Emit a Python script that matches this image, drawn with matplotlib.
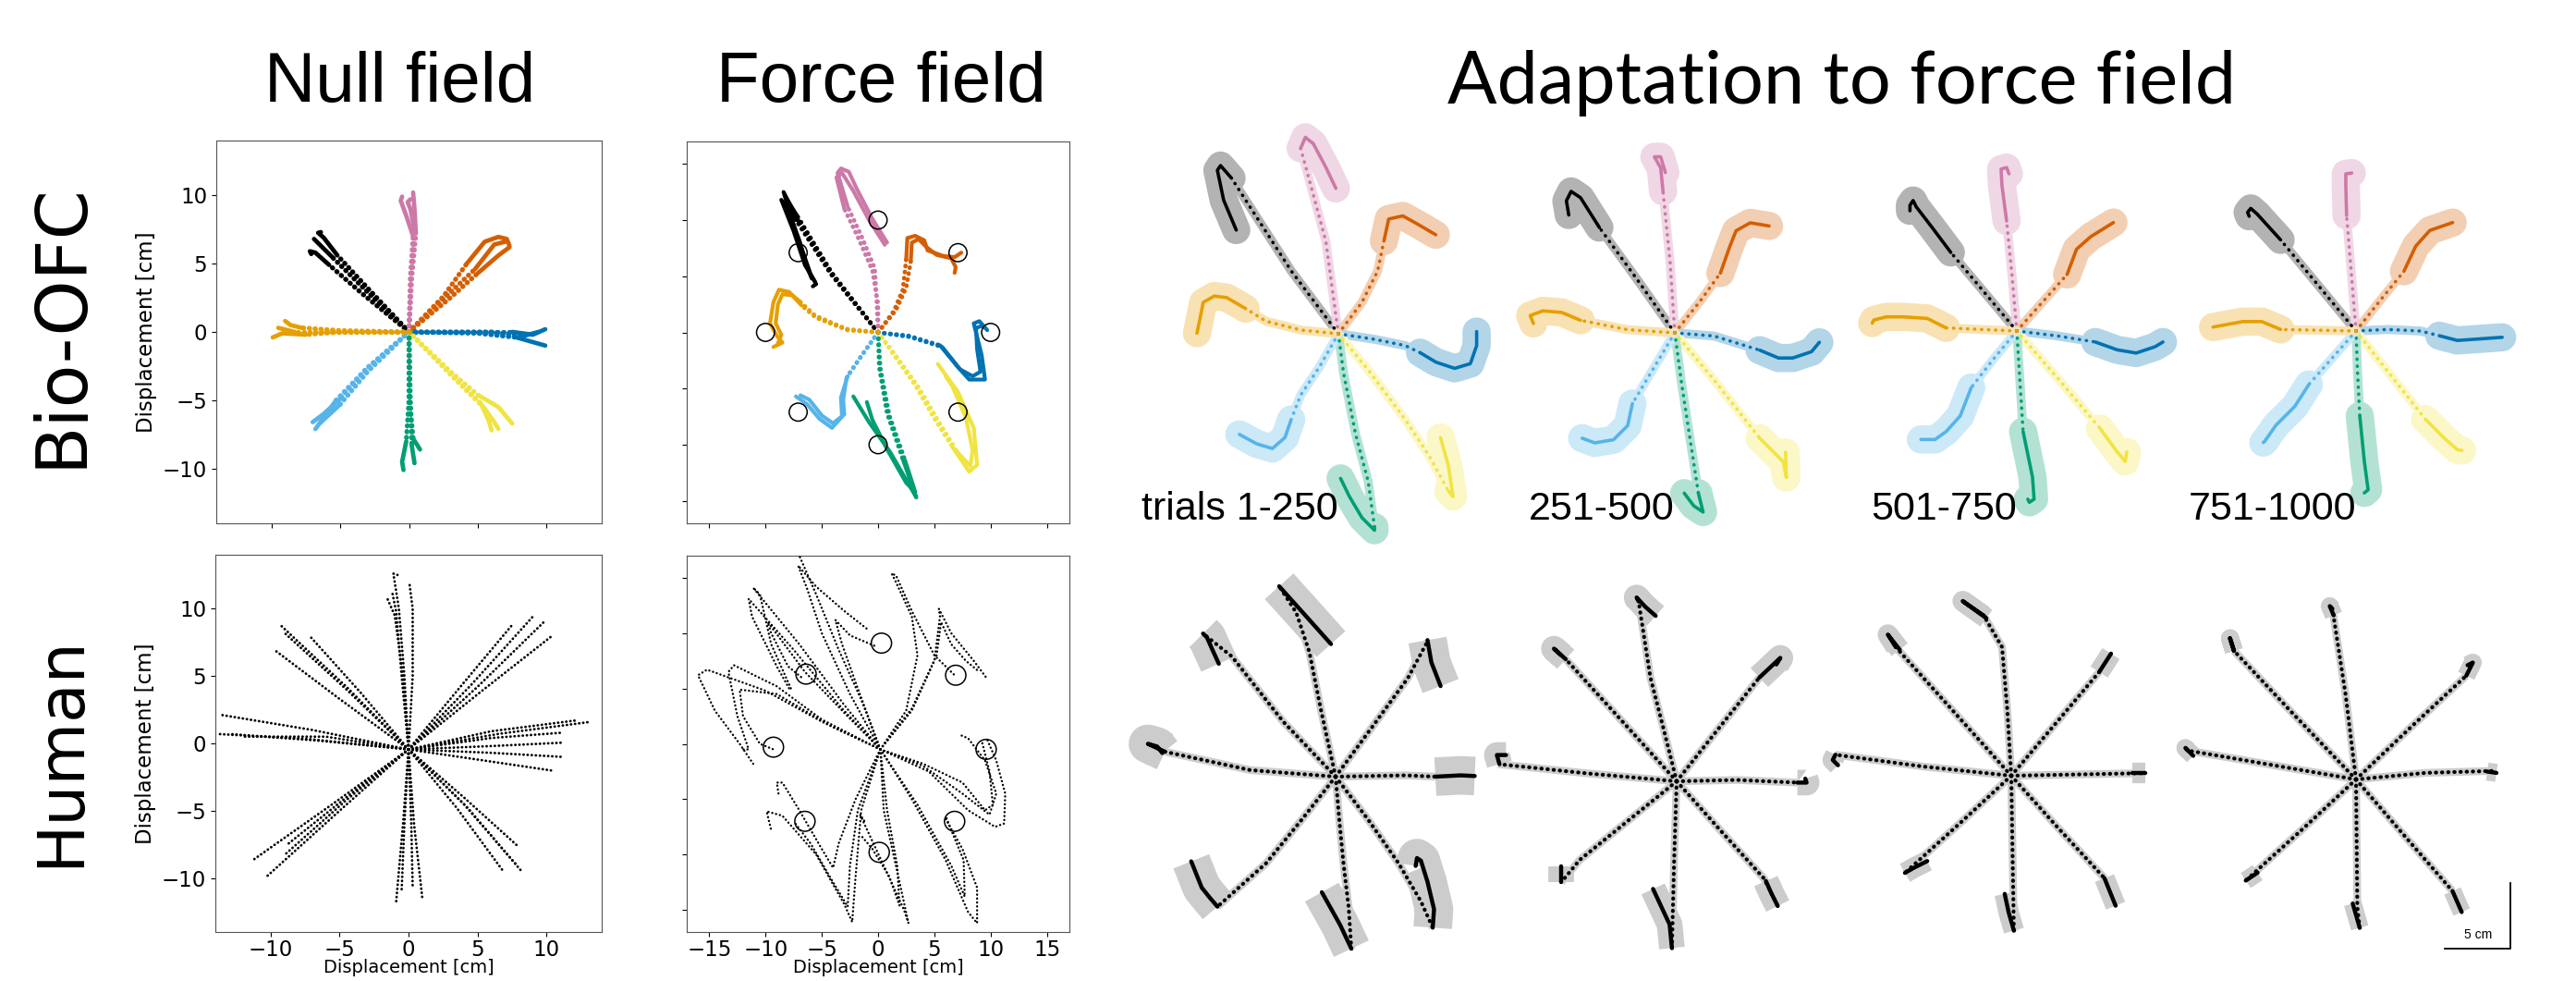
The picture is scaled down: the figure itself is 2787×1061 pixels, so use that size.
import numpy as np
import matplotlib.pyplot as plt
from matplotlib.patches import Circle

# Okabe-Ito colours, one per reach direction
# order: up-left, up, up-right, right, down-right, down, down-left, left
COLORS = ['#000000', '#CC79A7', '#D55E00', '#0072B2', '#F0E442', '#009E73', '#56B4E9', '#E69F00']

# ---------- Bio-OFC, null field: (direction, dotted part, solid end) ----------
OFC_NULL = [
    (0, [(0, 0), (-3, 3.2), (-5.2, 5.6)], [(-5.2, 5.6), (-6.2, 6.9), (-6.6, 7.25), (-6.4, 7.3)]),
    (0, [(0, 0), (-3.2, 3.1), (-5.5, 5.4)], [(-5.5, 5.4), (-6.5, 6.4), (-6.9, 6.8)]),
    (0, [(0, 0), (-3.4, 2.8), (-5.8, 4.9)], [(-5.8, 4.9), (-6.8, 5.8), (-7.2, 5.9), (-7.1, 5.7)]),
    (1, [(0, 0), (0.1, 4), (0.3, 7)], [(0.3, 7), (-0.2, 8.5), (-0.6, 9.6), (-0.5, 9.9)]),
    (1, [(0, 0), (0.2, 4), (0.5, 7.2)], [(0.5, 7.2), (0.4, 9.0), (0.3, 10.2)]),
    (1, [(0, 0), (0.15, 4), (0.4, 7.5)], [(0.4, 7.5), (0.1, 9.0), (-0.1, 9.5), (0.1, 9.7)]),
    (2, [(0, 0), (2.5, 2.6), (4.2, 5.0)], [(4.2, 5.0), (5.5, 6.6), (6.5, 6.95), (7.1, 6.8), (7.3, 6.3)]),
    (2, [(0, 0), (3.0, 2.5), (5.0, 4.3)], [(5.0, 4.3), (6.5, 5.6), (7.3, 6.2)]),
    (2, [(0, 0), (2.8, 2.7), (4.8, 4.6)], [(4.8, 4.6), (6.2, 6.4), (7.0, 6.6)]),
    (3, [(0, 0), (5, 0.0), (7.5, 0.0)], [(7.5, 0), (9.0, -0.2), (9.9, 0.2)]),
    (3, [(0, 0), (5, -0.1), (7.8, -0.4)], [(7.8, -0.4), (9.2, -0.8), (9.9, -1.0)]),
    (3, [(0, 0), (6, 0.0), (8.3, -0.3)], [(8.3, -0.3), (9.4, 0.0)]),
    (4, [(0, 0), (3, -2.9), (5.0, -4.6)], [(5.0, -4.6), (6.5, -5.5), (7.5, -6.7)]),
    (4, [(0, 0), (3, -3.0), (5.2, -5.2)], [(5.2, -5.2), (5.8, -6.5), (6.0, -7.2)]),
    (4, [(0, 0), (3, -3.1), (5.5, -5.6)], [(5.5, -5.6), (6.2, -6.6), (6.5, -7.1)]),
    (5, [(0, 0), (0, -5), (-0.2, -8)], [(-0.2, -8), (-0.5, -9.5), (-0.4, -10.1)]),
    (5, [(0, 0), (0.1, -5), (0.2, -8.3)], [(0.2, -8.3), (0.4, -9.6)]),
    (5, [(0, 0), (0.05, -5), (0.3, -7.8)], [(0.3, -7.8), (0.8, -8.6)]),
    (6, [(0, 0), (-3, -2.6), (-5, -4.9)], [(-5, -4.9), (-6.2, -6.0), (-7.0, -6.6)]),
    (6, [(0, 0), (-3.2, -2.8), (-5.3, -5.0)], [(-5.3, -5.0), (-6.3, -6.4), (-6.8, -7.1)]),
    (6, [(0, 0), (-3, -2.9), (-5.0, -5.3)], [(-5.0, -5.3), (-6.5, -6.7)]),
    (7, [(0, 0), (-5, 0), (-7.5, -0.2)], [(-7.5, -0.2), (-9.2, -0.1), (-9.9, -0.4)]),
    (7, [(0, 0), (-5, 0.1), (-7.8, 0.3)], [(-7.8, 0.3), (-8.6, 0.5), (-9.0, 0.8)]),
    (7, [(0, 0), (-6, 0.0), (-8.3, 0.0)], [(-8.3, 0), (-9.5, 0.3)]),
]

# ---------- Bio-OFC, force field ----------
OFC_FORCE = [
    (0, [(0, 0), (-4, 5), (-7, 9.8)], [(-7, 9.8), (-8.4, 12.5), (-7.8, 10.5), (-6.8, 7.5), (-6.0, 5.2), (-5.5, 4.3), (-5.8, 4.1)]),
    (0, [(0, 0), (-4.2, 5.2), (-7.3, 10)], [(-7.3, 10), (-8.6, 11.8), (-7.5, 9.0), (-6.5, 6.0), (-5.6, 4.5)]),
    (0, [(0, 0), (-4.1, 5.3), (-7.2, 10.4)], [(-7.2, 10.4), (-8.2, 12.0), (-8.0, 10.8), (-7.0, 8.2), (-6.3, 5.8), (-5.9, 4.8)]),
    (1, [(0, 0), (-0.1, 2.4), (-0.3, 5.7), (-1.4, 8.4), (-2.7, 11.2)], [(-2.7, 11.2), (-3.6, 14.2), (-3.3, 14.6), (-2.6, 14.3), (-1.9, 12.8), (-0.5, 10.1), (0.8, 8.0)]),
    (1, [(0, 0), (0.0, 2.5), (-0.5, 5.5), (-1.8, 8.5), (-3.0, 11.0)], [(-3.0, 11.0), (-3.7, 13.8), (-3.2, 14.2), (-2.2, 12.6), (-0.8, 10.0), (0.6, 7.8)]),
    (2, [(0, 0), (1.4, 1.9), (2.2, 3.8), (2.5, 6.5)], [(2.5, 6.5), (2.6, 8.4), (3.3, 8.6), (4.1, 8.2), (4.4, 7.3), (5.8, 6.8), (6.8, 6.7), (7.4, 7.1)]),
    (2, [(0, 0), (1.6, 2.0), (2.5, 4.0), (2.9, 6.3)], [(2.9, 6.3), (3.0, 8.0), (3.6, 8.3), (4.3, 7.6), (5.2, 6.9), (6.5, 6.6), (6.9, 5.8), (6.8, 5.3)]),
    (3, [(0, 0), (2.7, -0.3), (5.5, -1.15)], [(5.5, -1.15), (7.1, -3.1), (8.1, -4.2), (9.5, -4.2), (9.2, -2.0), (8.5, 0.8), (9.0, 1.0), (9.7, 0.2)]),
    (3, [(0, 0), (2.8, -0.4), (5.7, -1.3)], [(5.7, -1.3), (7.3, -3.3), (8.4, -3.9), (9.1, -3.5), (8.8, -1.5), (8.7, 0.4), (9.3, 0.6)]),
    (4, [(0, 0), (1.4, -2.0), (3.3, -4.7), (4.9, -7.5), (6.6, -10.2)], [(6.6, -10.2), (8.1, -12.4), (8.8, -11.8), (8.5, -8.5), (7.1, -5.3), (5.3, -2.8)]),
    (4, [(0, 0), (1.6, -2.1), (3.6, -4.9), (5.3, -7.8), (7.0, -10.6)], [(7.0, -10.6), (8.2, -11.9), (8.4, -10.5), (7.8, -7.6), (6.6, -4.8), (6.0, -3.9)]),
    (5, [(0, 0), (0.1, -3.1), (0.8, -7.2), (2.2, -11.3)], [(2.2, -11.3), (3.4, -14.7), (3.0, -14.0), (1.1, -10.7), (-0.8, -8.0), (-2.2, -5.7)]),
    (5, [(0, 0), (0.2, -3.2), (1.0, -7.4), (2.4, -11.4)], [(2.4, -11.4), (3.3, -14.2), (2.5, -13.4), (0.8, -10.4), (-0.5, -7.8), (-1.0, -6.2)]),
    (6, [(0, 0), (-1.4, -2.0), (-2.7, -3.9)], [(-2.7, -3.9), (-3.3, -5.8), (-3.2, -7.5), (-4.1, -8.5), (-5.2, -7.7), (-6.3, -6.4), (-7.3, -5.7)]),
    (6, [(0, 0), (-1.5, -2.1), (-2.8, -4.0)], [(-2.8, -4.0), (-3.1, -6.0), (-3.0, -7.3), (-4.0, -8.1), (-5.0, -7.4), (-6.1, -6.0), (-6.9, -5.6)]),
    (7, [(0, 0), (-2.7, 0.2), (-5.5, 1.3), (-6.8, 2.4)], [(-6.8, 2.4), (-7.9, 3.6), (-8.8, 3.8), (-9.3, 2.7), (-9.6, 0.8), (-9.0, -0.3), (-8.5, -0.9), (-9.3, -1.3)]),
    (7, [(0, 0), (-2.8, 0.3), (-5.6, 1.5), (-6.9, 2.7)], [(-6.9, 2.7), (-7.6, 3.3), (-8.5, 3.4), (-8.9, 2.5), (-9.1, 0.8), (-8.6, -0.2), (-8.9, -1.0)]),
]
OFC_TARGETS = [(-7.1, 7.1), (0, 10), (7.1, 7.1), (10, 0), (7.1, -7.1), (0, -10), (-7.1, -7.1), (-10, 0)]

# ---------- Human, null field (all dotted) ----------
HUMAN_NULL = [
    [(0, -0.45), (-0.3, 5), (-0.7, 10), (-1.1, 12.6), (-0.8, 12.5)],
    [(0, -0.45), (-0.4, 5), (-1.0, 9.5), (-1.6, 10.9)],
    [(0, -0.45), (0.3, 5), (0.3, 10), (0.05, 12.0)],
    [(0, -0.45), (-0.5, 5), (-0.9, 9.8), (-1.2, 11.3)],
    [(0, -0.45), (4.5, 4.3), (9.0, 9.4)],
    [(0, -0.45), (5, 4.2), (9.4, 8.6), (9.8, 9.0)],
    [(0, -0.45), (4, 4.5), (7.6, 8.9)],
    [(0, -0.45), (5.2, 3.8), (10.3, 7.9)],
    [(0, -0.45), (6, 0.9), (12.1, 1.7)],
    [(0, -0.45), (6.5, 0.7), (13.2, 1.6)],
    [(0, -0.45), (6, 0.4), (11.2, 0.8)],
    [(0, -0.45), (6, -0.2), (11.1, 0.05)],
    [(0, -0.45), (6, -0.7), (11.1, -1.0)],
    [(0, -0.45), (5, -1.2), (10.6, -2.05)],
    [(0, -0.45), (4, -4.0), (8.0, -7.7)],
    [(0, -0.45), (4, -4.5), (7.8, -9.0)],
    [(0, -0.45), (3.5, -4.8), (6.8, -9.4)],
    [(0, -0.45), (4.3, -4.8), (8.2, -9.5)],
    [(0, -0.45), (-0.4, -6), (-0.9, -11.8)],
    [(0, -0.45), (-0.3, -6), (-0.5, -10.9)],
    [(0, -0.45), (0.2, -6), (0.3, -10.7)],
    [(0, -0.45), (0.4, -6), (1.0, -11.5)],
    [(0, -0.45), (-5.5, -4.5), (-11.4, -8.75)],
    [(0, -0.45), (-5, -5), (-10.3, -9.9)],
    [(0, -0.45), (-4.5, -4), (-8.9, -7.6)],
    [(0, -0.45), (-4.5, -4.2), (-8.9, -8.2)],
    [(0, -0.45), (-7, 1.0), (-13.5, 2.1)],
    [(0, -0.45), (-7, 0.3), (-13.9, 0.7)],
    [(0, -0.45), (-6.5, 0.2), (-13.0, 0.7)],
    [(0, -0.45), (-6, 0.5), (-12.0, 0.5)],
    [(0, -0.45), (-4.5, 4.2), (-9.2, 8.7)],
    [(0, -0.45), (-4.5, 4.0), (-9.1, 8.3)],
    [(0, -0.45), (-5, 3.3), (-9.8, 7.0)],
    [(0, -0.45), (-3.5, 3.8), (-7.1, 7.9)],
]

# ---------- Human, force field ----------
HUMAN_FORCE = [
    [(0.2, -0.5), (-1.5, 4), (-3.5, 8.5), (-5.5, 13.5), (-7.0, 17.0)],
    [(0.2, -0.5), (-2.5, 4.5), (-5, 10), (-6.3, 14), (-7.1, 16.1), (-5.5, 14.2), (-3, 12), (-1.0, 10.4)],
    [(0.2, -0.5), (-1.8, 5), (-3.2, 9), (-3.8, 11.2), (-2.5, 9.8), (-0.3, 8.85)],
    [(0.2, -0.5), (2.5, 3), (3.5, 8), (3.0, 11.5), (1.5, 14.8), (1.2, 15.4), (1.6, 15.2), (3.0, 12.0), (5.0, 8.0), (6.8, 6.2)],
    [(0.2, -0.5), (3, 3), (5, 7.5), (5.5, 11.5), (5.4, 12.2), (6.5, 10), (8.5, 7.5), (9.6, 6.0)],
    [(0.2, -0.5), (3, 3.2), (5.2, 8), (5.6, 11.0), (6.5, 9), (7.8, 7.5), (9.0, 6.5)],
    [(0.2, -0.5), (-3, 3.5), (-7, 9), (-11.1, 14.1), (-10.5, 13.5), (-9.5, 9), (-7.7, 4.9)],
    [(0.2, -0.5), (-3.2, 3.2), (-7.5, 8.5), (-11.5, 13.1), (-11.2, 11.5), (-9.0, 7.0), (-7.9, 5.0)],
    [(0.2, -0.5), (-3, 2.8), (-6.5, 6.5), (-9.8, 11.0), (-9.5, 10), (-8.0, 7.0), (-6.8, 6.0)],
    [(0.2, -0.5), (-5, 2), (-10, 4.8), (-15.2, 6.7), (-16, 6.2), (-14.5, 3.0), (-12.3, 0.0), (-11.1, -1.8)],
    [(0.2, -0.5), (-5, 2.2), (-9, 5.2), (-12.8, 7.1), (-13.3, 6.5), (-12.5, 2.5), (-11.5, -0.5), (-12, -0.5)],
    [(0.2, -0.5), (-4, 1.5), (-9, 4.5), (-12.3, 4.9), (-12.0, 2.5), (-10.5, 0), (-9.3, -0.5)],
    [(0.2, -0.5), (4, -2), (7.5, -4.5), (9.9, -6.4), (10.5, -4.5), (9.5, -1.5), (8, 0.5), (7.3, 0.8)],
    [(0.2, -0.5), (4.5, -2.5), (8, -6), (10.4, -7.5), (11.2, -7.2), (11.3, -4.5), (10.5, -1.5), (9.6, 0.6)],
    [(0.2, -0.5), (4, -1.8), (7.5, -3.5), (9.5, -6), (10.2, -5.5), (9.9, -2.5), (9.2, 0.3)],
    [(0.2, -0.5), (3, -5), (6, -10.5), (8.0, -15.2), (8.8, -16.2), (8.8, -13), (7.5, -9.5), (5.9, -6.6)],
    [(0.2, -0.5), (3.5, -5.5), (6.5, -11), (7.7, -13.8), (7.6, -10.5), (6.5, -7.8), (6.0, -6.5)],
    [(0.2, -0.5), (0.5, -6), (1.8, -12), (2.7, -16.2), (2.3, -15), (0.5, -11), (-1.6, -6.4), (-1.2, -7.0)],
    [(0.2, -0.5), (0.8, -6), (1.7, -11), (1.9, -14.6), (1.0, -12.0), (-0.5, -9.5), (-1.5, -8.3)],
    [(0.2, -0.5), (-1.5, -6), (-2.0, -12), (-2.3, -16.1), (-3, -14.5), (-5.5, -10), (-8.5, -6.5), (-9.9, -6.1), (-9.5, -7.8)],
    [(0.2, -0.5), (-2, -5), (-3.5, -9), (-4.0, -11.2), (-5, -9.5), (-7.0, -6.0), (-8.5, -3.5), (-9.0, -3.5), (-8.8, -4.8)],
    [(0.2, -0.5), (-1.8, -6), (-2.5, -11), (-2.7, -14.7), (-4, -12.5), (-6, -9), (-7.5, -7.0)],
]
HUMAN_TARGETS = [(-6.4, 6.3), (0.3, 9.1), (6.9, 6.2), (9.6, -0.5), (6.8, -7.0), (0.1, -9.8), (-6.5, -7.0), (-9.3, -0.3)]

# ---------- Adaptation, Bio-OFC mean trajectories (one per direction) ----------
ADAPT_OFC_1 = [
    ([(0, 0), (-3, 4), (-6.8, 9.9)], [(-6.8, 9.9), (-7.5, 10.7), (-7.7, 10.4), (-7.3, 8.5), (-6.5, 6.6)]),
    ([(0, 0), (-0.8, 5.9), (-1.8, 9.6), (-2.4, 11.8)], [(-2.4, 11.8), (-2.1, 12.5), (-1.6, 12.1), (-0.8, 10.6), (-0.16, 9.25)]),
    ([(0, 0), (1.5, 2.0), (2.5, 4.0), (2.9, 5.9)], [(2.9, 5.9), (3.2, 7.3), (4.1, 7.5), (5.0, 7.0), (6.2, 6.3)]),
    ([(0, 0), (2.3, -0.35), (4.25, -0.75), (5.2, -1.2)], [(5.2, -1.2), (6.2, -1.8), (7.4, -2.2), (8.4, -1.9), (8.8, -0.75), (8.8, 0.14)]),
    ([(0, 0), (1.9, -2.3), (4.25, -5.45), (5.8, -7.8), (7.0, -10.0)], [(7.0, -10.0), (7.3, -10.35), (7.0, -8.4), (6.5, -6.6)]),
    ([(0, 0), (0.33, -2.5), (1.1, -6.4), (1.9, -9.4), (2.3, -12.3)], [(2.3, -12.3), (2.3, -12.5), (1.5, -11.7), (0.7, -10.35), (0.14, -9.2)]),
    ([(0, 0), (-1.2, -2.1), (-2.4, -3.9), (-3.0, -5.45)], [(-3.0, -5.45), (-3.4, -6.6), (-4.2, -7.3), (-5.2, -7.0), (-6.3, -6.4)]),
    ([(0, 0), (-2.4, 0.24), (-4.6, 0.8), (-5.9, 1.6)], [(-5.9, 1.6), (-7.1, 2.3), (-7.9, 2.4), (-8.6, 2.0), (-8.8, 1.0), (-9.0, 0.04)]),
]
ADAPT_OFC_2 = [
    ([(0, 0), (-2.4, 3.4), (-4.8, 6.7)], [(-4.8, 6.7), (-6.0, 8.6), (-6.6, 9.0), (-6.9, 8.4), (-6.75, 7.5)]),
    ([(0, 0), (-0.3, 4.5), (-0.75, 9.0)], [(-0.75, 9.0), (-0.9, 10.5), (-1.3, 11.2), (-0.9, 11.2), (-0.6, 10.2)]),
    ([(0, 0), (1.6, 2.0), (2.9, 3.8)], [(2.9, 3.8), (3.5, 5.5), (3.9, 6.5), (4.8, 7.0), (6.0, 6.8)]),
    ([(0, 0), (2.5, -0.2), (5.4, -1.1)], [(5.4, -1.1), (6.6, -1.6), (7.5, -1.6), (8.7, -1.2), (9.2, -0.6)]),
    ([(0, 0), (2.5, -3.0), (5.4, -6.7)], [(5.4, -6.7), (6.9, -8.2), (7.1, -9.2), (7.05, -7.6)]),
    ([(0, 0), (0.4, -3), (0.9, -6.3), (1.5, -10.2)], [(1.5, -10.2), (1.8, -11.4), (1.2, -11.0), (0.6, -10.2)]),
    ([(0, 0), (-1.5, -2.5), (-2.7, -4.5)], [(-2.7, -4.5), (-3.0, -5.9), (-3.9, -6.8), (-5.1, -7.0), (-5.9, -6.7)]),
    ([(0, 0), (-3, 0.2), (-6.0, 0.8)], [(-6.0, 0.8), (-7.2, 1.3), (-8.4, 1.4), (-9.2, 1.1), (-9.0, 0.6)]),
]
ADAPT_OFC_3 = [
    ([(0, 0), (-2.1, 2.5), (-4.2, 5.0)], [(-4.2, 5.0), (-5.4, 6.6), (-6.4, 7.9), (-6.6, 8.3), (-6.8, 8.0), (-6.8, 7.65)]),
    ([(0, 0), (-0.3, 3.5), (-0.65, 7.0)], [(-0.65, 7.0), (-0.95, 9.3), (-1.0, 10.3), (-0.65, 10.4), (-0.5, 10.0)]),
    ([(0, 0), (1.6, 1.8), (3.2, 3.6)], [(3.2, 3.6), (3.8, 5.2), (4.7, 6.0), (6.15, 6.9)]),
    ([(0, 0), (2.5, -0.3), (5.0, -0.7)], [(5.0, -0.7), (6.4, -1.2), (7.6, -1.4), (8.8, -1.0), (9.3, -0.7)]),
    ([(0, 0), (2.6, -3.0), (5.3, -6.2)], [(5.3, -6.2), (6.4, -7.7), (6.9, -8.3), (7.0, -7.7)]),
    ([(0, 0), (0.2, -3.2), (0.4, -6.4)], [(0.4, -6.4), (1.0, -9.3), (1.1, -10.7), (0.8, -10.9), (0.7, -10.7)]),
    ([(0, 0), (-1.5, -1.8), (-2.9, -3.6)], [(-2.9, -3.6), (-3.6, -5.4), (-4.5, -6.4), (-5.2, -6.9), (-6.1, -6.9)]),
    ([(0, 0), (-2.3, 0.1), (-4.5, 0.2)], [(-4.5, 0.2), (-5.7, 0.8), (-7.2, 0.9), (-8.3, 0.9), (-9.1, 0.7), (-9.2, 0.5)]),
]
ADAPT_OFC_4 = [
    ([(0, 0), (-2.4, 2.9), (-4.8, 5.8)], [(-4.8, 5.8), (-6.3, 7.45), (-6.7, 7.8), (-6.9, 7.55), (-6.8, 7.3)]),
    ([(0, 0), (-0.3, 3.7), (-0.6, 7.35)], [(-0.6, 7.35), (-0.65, 9.3), (-0.65, 10.0), (-0.27, 10.05)]),
    ([(0, 0), (1.5, 1.9), (3.05, 3.8)], [(3.05, 3.8), (3.8, 5.4), (4.7, 6.4), (6.15, 6.9)]),
    ([(0, 0), (2.0, 0.1), (4.1, 0.0), (5.3, -0.3)], [(5.3, -0.3), (6.45, -0.6), (7.9, -0.5), (9.3, -0.4)]),
    ([(0, 0), (2.2, -2.8), (4.4, -5.6)], [(4.4, -5.6), (5.6, -6.8), (6.45, -7.55), (6.75, -7.6)]),
    ([(0, 0), (0.1, -2.7), (0.24, -5.4)], [(0.24, -5.4), (0.53, -8.3), (0.77, -10.1), (0.53, -10.3)]),
    ([(0, 0), (-1.5, -1.7), (-3.0, -3.4)], [(-3.0, -3.4), (-3.9, -4.8), (-5.1, -6.0), (-5.8, -7.0), (-5.9, -7.1)]),
    ([(0, 0), (-2.4, 0.05), (-4.8, 0.1)], [(-4.8, 0.1), (-6.0, 0.6), (-7.2, 0.6), (-8.3, 0.4), (-9.1, 0.25)]),
]
ADAPT_LABELS = ['trials 1-250', '251-500', '501-750', '751-1000']

# ---------- Adaptation, human (cm) ----------
ADAPT_HUM_1 = [
    ([(0, 0), (-4, 4.2), (-7.9, 9.15), (-10.1, 10.9)], [(-10.1, 10.9), (-9.8, 10.6), (-9.4, 9.7), (-8.9, 8.6)]),
    ([(0, 0), (-1.1, 5), (-2.0, 9.5), (-3.0, 12.5), (-4.3, 14.5)], [(-4.3, 14.5), (-2.5, 12.5), (-0.35, 10.1)]),
    ([(0, 0), (2.8, 3.8), (5.5, 7.5), (7.0, 10.3)], [(7.0, 10.4), (7.3, 8.7), (8.0, 6.9)]),
    ([(0, 0), (5.3, 0.1), (7.6, 0.0)], [(7.6, 0.0), (9.5, 0.1), (10.6, 0.05)]),
    ([(0, 0), (2.5, -3.3), (4.8, -6.6), (6.5, -9.5), (7.4, -11.5)], [(7.4, -11.5), (7.5, -10.1), (7.0, -8.0), (6.5, -6.4), (6.2, -6.2), (6.1, -6.8)]),
    ([(0, 0), (0.3, -3.5), (0.6, -6.6), (1.0, -10), (1.2, -13.1)], [(1.2, -13.1), (0.35, -11.3), (-1.05, -8.8)]),
    ([(0, 0), (-2.6, -3.3), (-5.3, -6.6), (-9.0, -9.9)], [(-9.0, -9.9), (-9.6, -9.2), (-10.2, -8.45), (-11.0, -6.45)]),
    ([(0, 0), (-6.5, 0.5), (-13.0, 1.9)], [(-13.0, 1.9), (-14.3, 2.5), (-13.6, 2.3), (-13.2, 1.8)]),
]
ADAPT_HUM_2 = [
    ([(0, 0), (-4.4, 4.85), (-8.45, 9.3)], [(-8.45, 9.3), (-9.35, 10.1), (-8.8, 9.6)]),
    ([(0, 0), (-1.0, 4), (-2.0, 7.9), (-2.9, 13.7)], [(-2.9, 13.7), (-3.05, 14.0), (-2.4, 13.3), (-1.6, 12.6)]),
    ([(0, 0), (3.1, 3.9), (6.3, 7.9)], [(6.3, 7.9), (7.9, 9.4), (7.6, 8.9)]),
    ([(0, 0), (4.6, 0.1), (9.2, -0.1)], [(9.2, -0.1), (9.9, -0.1), (9.8, 0.2)]),
    ([(0, 0), (3.3, -3.7), (6.65, -7.4), (7.7, -9.5)], [(7.7, -9.5), (7.2, -8.5), (6.8, -7.6)]),
    ([(0, 0), (-0.2, -6.3), (-0.36, -12.7)], [(-0.36, -12.7), (-0.54, -10.9), (-1.8, -8.2)]),
    ([(0, 0), (-3.7, -3.0), (-7.4, -6.0), (-8.8, -7.7)], [(-8.8, -7.7), (-8.8, -6.45)]),
    ([(0, 0), (-6.8, 0.6), (-13.5, 1.3)], [(-13.5, 1.3), (-13.7, 2.0), (-13.0, 2.0)]),
]
ADAPT_HUM_3 = [
    ([(0, 0), (-4.4, 4.9), (-8.8, 9.8)], [(-8.8, 9.8), (-9.4, 10.75), (-8.5, 9.6)]),
    ([(0, 0), (-0.3, 5), (-0.7, 9.8), (-2.1, 12.2)], [(-2.1, 12.2), (-3.7, 13.3), (-1.9, 12.0)]),
    ([(0, 0), (3.4, 4.0), (6.7, 7.9)], [(6.7, 7.9), (7.6, 9.3)]),
    ([(0, 0), (5.1, 0.1), (10.2, 0.2)], [(9.2, 0.2), (10.2, 0.2)]),
    ([(0, 0), (3.5, -3.9), (7.1, -7.8)], [(7.1, -7.8), (7.95, -9.9)]),
    ([(0, 0), (0.1, -6), (0.2, -11.8)], [(-0.5, -9.0), (-0.2, -10.4), (0.2, -11.8)]),
    ([(0, 0), (-4, -3.7), (-8.1, -7.4)], [(-8.1, -7.4), (-7.4, -7.0), (-6.4, -6.5)]),
    ([(0, 0), (-6.7, 0.7), (-13.4, 1.6)], [(-13.4, 1.6), (-13.6, 1.2), (-13.2, 0.8)]),
]
ADAPT_HUM_4 = [
    ([(0, 0), (-4.7, 4.9), (-9.3, 9.8)], [(-9.3, 9.8), (-9.6, 10.75), (-9.3, 9.8)]),
    ([(0, 0), (-0.8, 6.5), (-1.8, 13.0)], [(-1.8, 13.0), (-2.0, 13.2), (-1.7, 12.5)]),
    ([(0, 0), (4.2, 4.0), (8.4, 7.9)], [(8.4, 7.9), (8.9, 8.9), (8.5, 8.7)]),
    ([(0, 0), (5.3, 0.5), (10.5, 0.65)], [(10.0, 0.6), (10.7, 0.5)]),
    ([(0, 0), (3.7, -4.3), (7.35, -8.5)], [(7.35, -8.5), (8.05, -10.1)]),
    ([(0, 0), (0.05, -4.9), (0.1, -9.7), (0.28, -11.3)], [(-0.25, -9.45), (0.28, -11.3)]),
    ([(0, 0), (-4.2, -3.9), (-8.4, -7.7)], [(-8.4, -7.7), (-7.5, -7.1)]),
    ([(0, 0), (-6.4, 1.1), (-12.8, 2.2)], [(-12.8, 2.2), (-13.0, 2.4), (-12.4, 1.8)]),
]

W, H = 2787, 1061
fig = plt.figure(figsize=(W / 100, H / 100), dpi=100)


def px_axes(left, top, w, h):
    return fig.add_axes([left / W, 1 - (top + h) / H, w / W, h / H])


def light(c, a=0.3):
    c = np.array(plt.matplotlib.colors.to_rgb(c))
    return tuple(1 - a * (1 - c))


def dots(ax, pts, color, lw, gap, z=3):
    x, y = zip(*pts)
    ax.plot(x, y, color=color, lw=lw, linestyle=(0, (0.1, gap)),
            dash_capstyle='round', zorder=z)


def line(ax, pts, color, lw, z=3):
    x, y = zip(*pts)
    ax.plot(x, y, color=color, lw=lw, solid_capstyle='round',
            solid_joinstyle='round', zorder=z)


def style_box(ax, lim, ticks, xlab, ylab):
    ax.set_xlim(-lim, lim)
    ax.set_ylim(-lim, lim)
    ax.set_xticks(ticks)
    ax.set_yticks(ticks)
    for s in ax.spines.values():
        s.set_color('#555555')
    ax.tick_params(labelsize=16.5, labelbottom=xlab, labelleft=ylab)
    if ylab:
        ax.set_ylabel('Displacement [cm]', fontsize=16.5)
    if xlab:
        ax.tick_params(axis='x', pad=2)
        ax.set_xlabel('Displacement [cm]', fontsize=14, labelpad=-1)


# Bio-OFC null field
ax = px_axes(234, 152, 417, 414)
for d, dp, sp in OFC_NULL:
    dots(ax, dp, COLORS[d], 3.8, 1.1)
    line(ax, sp, COLORS[d], 3.4)
style_box(ax, 14, [-10, -5, 0, 5, 10], False, True)

# Bio-OFC force field
ax = px_axes(743, 153, 414, 413)
for d, dp, sp in OFC_FORCE:
    dots(ax, dp, COLORS[d], 3.4, 1.3)
    line(ax, sp, COLORS[d], 3.0)
for tx, ty in OFC_TARGETS:
    ax.add_patch(Circle((tx, ty), 0.8, fc='none', ec='black', lw=1.1, zorder=4))
style_box(ax, 17, [-15, -10, -5, 0, 5, 10, 15], False, False)

# Human null field
ax = px_axes(233, 600, 418, 408)
for tr in HUMAN_NULL:
    dots(ax, tr, 'black', 2.0, 1.5)
style_box(ax, 14, [-10, -5, 0, 5, 10], True, True)

# Human force field
ax = px_axes(743, 601, 414, 407)
for tr in HUMAN_FORCE:
    dots(ax, tr, 'black', 1.7, 1.7)
for tx, ty in HUMAN_TARGETS:
    ax.add_patch(Circle((tx, ty), 0.9, fc='none', ec='black', lw=1.1, zorder=4))
style_box(ax, 17, [-15, -10, -5, 0, 5, 10, 15], True, False)

# Adaptation: Bio-OFC (17 px per unit)
ofc_centres = [(1448, 361), (1812, 360), (2182, 358), (2549, 358)]
for (cx, cy), panel, lab in zip(ofc_centres, [ADAPT_OFC_1, ADAPT_OFC_2, ADAPT_OFC_3, ADAPT_OFC_4], ADAPT_LABELS):
    S = 520
    ax = px_axes(cx - S / 2, cy - S / 2, S, S)
    L = S / 2 / 17
    ax.set_xlim(-L, L)
    ax.set_ylim(-L, L)
    ax.axis('off')
    for d, (dp, sp) in enumerate(panel):
        band = light(COLORS[d])
        line(ax, dp, band, 7, z=1)
        line(ax, sp, band, 22, z=1)
    for d, (dp, sp) in enumerate(panel):
        dots(ax, dp, COLORS[d], 2.6, 2.0, z=3)
        line(ax, sp, COLORS[d], 2.6, z=3)
    fig.text(cx / W, 1 - 562 / H, lab, ha='right', va='baseline', fontsize=31,
             family=['Liberation Sans', 'DejaVu Sans'])

# Adaptation: human (14.2 px per cm)
hum_centres = [(1445, 840), (1814, 845), (2176, 839), (2549, 843)]
band_w = [30, 20, 16, 14]
for (cx, cy), panel, bw in zip(hum_centres, [ADAPT_HUM_1, ADAPT_HUM_2, ADAPT_HUM_3, ADAPT_HUM_4], band_w):
    S = 520
    ax = px_axes(cx - S / 2, cy - S / 2, S, S)
    L = S / 2 / 14.2
    ax.set_xlim(-L, L)
    ax.set_ylim(-L, L)
    ax.axis('off')
    for dp, sp in panel:
        x, y = zip(*dp)
        ax.plot(x, y, color='0.8', lw=6, solid_capstyle='butt', zorder=1)
        x, y = zip(*sp)
        ax.plot(x, y, color='0.8', lw=bw, solid_capstyle='butt', solid_joinstyle='round', zorder=1)
    for dp, sp in panel:
        dots(ax, dp, 'black', 3.0, 1.5, z=3)
        line(ax, sp, 'black', 3.2, z=3)
    last = ax

# 5 cm scale bar in the last human panel
last.plot([6.76, 11.76, 11.76], [-12.9, -12.9, -7.9], color='black', lw=1.3, clip_on=False)
last.text(9.3, -12.3, '5 cm', ha='center', va='bottom', fontsize=10,
          family=['Liberation Sans Narrow', 'Liberation Sans'])

# titles and row labels
fig.text(433 / W, 1 - 110 / H, 'Null field', ha='center', va='baseline', fontsize=55,
         family=['Liberation Sans', 'DejaVu Sans'])
fig.text(953 / W, 1 - 110 / H, 'Force field', ha='center', va='baseline', fontsize=55,
         family=['Liberation Sans', 'DejaVu Sans'])
fig.text(1993 / W, 1 - 112 / H, 'Adaptation to force field', ha='center', va='baseline', fontsize=57,
         family=['Lato', 'DejaVu Sans'])
fig.text(66 / W, 1 - 352 / H, 'Bio-OFC', rotation=90, ha='center', va='center', fontsize=55)
fig.text(66 / W, 1 - 813 / H, 'Human', rotation=90, ha='center', va='center', fontsize=50)

fig.savefig('out.png', dpi=100)
